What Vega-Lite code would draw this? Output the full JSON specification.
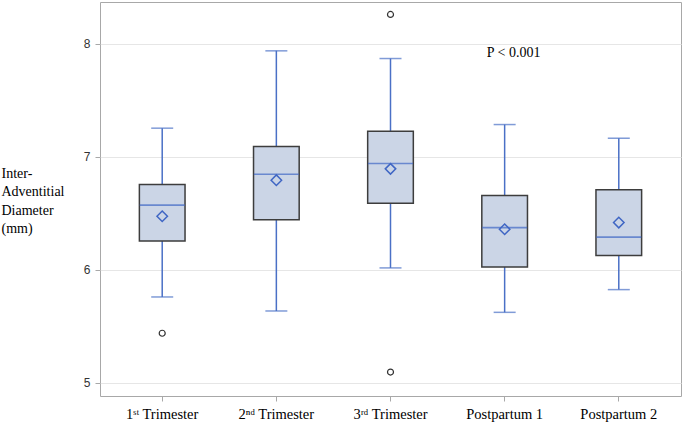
{
  "$schema": "https://vega.github.io/schema/vega-lite/v6.json",
  "width": 581,
  "height": 394,
  "autosize": {"type": "none"},
  "padding": {"left": 100, "top": 2, "right": 4, "bottom": 31},
  "background": "white",
  "config": {
    "view": {"stroke": "#a8a8a8", "strokeWidth": 1},
    "axisX": {"domain": false, "tickColor": "#a8a8a8", "tickSize": 5, "labelFont": "Liberation Serif", "labelFontSize": 14.5, "labelColor": "#000000", "labelPadding": 6, "labelAngle": 0, "title": null},
    "axisY": {"domain": false, "tickColor": "#a8a8a8", "tickSize": 5, "labelFont": "Liberation Sans", "labelFontSize": 12, "labelColor": "#333333", "labelPadding": 5, "gridColor": "#e6e6e6", "gridWidth": 1}
  },
  "datasets": {
    "stats": [
      {"group": "1ˢᵗ Trimester", "lo": 5.761, "q1": 6.257, "med": 6.573, "mean": 6.475, "q3": 6.755, "hi": 7.254},
      {"group": "2ⁿᵈ Trimester", "lo": 5.637, "q1": 6.445, "med": 6.847, "mean": 6.794, "q3": 7.091, "hi": 7.938},
      {"group": "3ʳᵈ Trimester", "lo": 6.018, "q1": 6.590, "med": 6.941, "mean": 6.894, "q3": 7.227, "hi": 7.870},
      {"group": "Postpartum 1", "lo": 5.625, "q1": 6.027, "med": 6.374, "mean": 6.360, "q3": 6.658, "hi": 7.286},
      {"group": "Postpartum 2", "lo": 5.826, "q1": 6.127, "med": 6.290, "mean": 6.419, "q3": 6.710, "hi": 7.165}
    ],
    "outliers": [
      {"group": "1ˢᵗ Trimester", "value": 5.44},
      {"group": "3ʳᵈ Trimester", "value": 8.26},
      {"group": "3ʳᵈ Trimester", "value": 5.097}
    ],
    "notes": [
      {"group": "Postpartum 1", "value": 7.92, "label": "P < 0.001"}
    ]
  },
  "data": {"name": "stats"},
  "encoding": {
    "x": {
      "field": "group",
      "type": "nominal",
      "sort": null,
      "scale": {"domain": ["1ˢᵗ Trimester", "2ⁿᵈ Trimester", "3ʳᵈ Trimester", "Postpartum 1", "Postpartum 2"], "paddingInner": 0, "paddingOuter": 0.045}
    }
  },
  "layer": [
    {
      "mark": {"type": "rule", "color": "#4a70c6", "strokeWidth": 1.5},
      "encoding": {
        "y": {
          "field": "lo",
          "type": "quantitative",
          "scale": {"domain": [4.885, 8.37], "nice": false, "zero": false},
          "axis": {"values": [5, 6, 7, 8], "format": "d", "title": ["Inter-", "Adventitial", "Diameter", "(mm)"], "titleAngle": 0, "titleAlign": "left", "titleBaseline": "top", "titleX": -99, "titleY": 164, "titleFont": "Liberation Serif", "titleFontSize": 14, "titleFontWeight": "normal", "titleColor": "#000000", "titleLineHeight": 18.5}
        },
        "y2": {"field": "hi"}
      }
    },
    {
      "mark": {"type": "tick", "color": "#4a70c6", "size": 22, "thickness": 1.5},
      "encoding": {"y": {"field": "lo", "type": "quantitative"}}
    },
    {
      "mark": {"type": "tick", "color": "#4a70c6", "size": 22, "thickness": 1.5},
      "encoding": {"y": {"field": "hi", "type": "quantitative"}}
    },
    {
      "mark": {"type": "bar", "width": {"band": 0.4}, "fill": "#cbd5e6", "stroke": "#3d3d3d", "strokeWidth": 1.5},
      "encoding": {"y": {"field": "q1", "type": "quantitative"}, "y2": {"field": "q3"}}
    },
    {
      "mark": {"type": "tick", "color": "#3f66c4", "size": 45, "thickness": 1.6},
      "encoding": {"y": {"field": "med", "type": "quantitative"}}
    },
    {
      "mark": {"type": "point", "shape": "diamond", "filled": false, "size": 110, "stroke": "#3f66c4", "strokeWidth": 1.5, "opacity": 1},
      "encoding": {"y": {"field": "mean", "type": "quantitative"}}
    },
    {
      "data": {"name": "outliers"},
      "mark": {"type": "point", "shape": "circle", "filled": false, "size": 36, "stroke": "#333333", "strokeWidth": 1.2, "opacity": 1},
      "encoding": {"x": {"field": "group", "type": "nominal"}, "y": {"field": "value", "type": "quantitative"}}
    },
    {
      "data": {"name": "notes"},
      "mark": {"type": "text", "font": "Liberation Serif", "fontSize": 14, "color": "#000000", "dx": 9, "align": "center", "baseline": "middle"},
      "encoding": {"x": {"field": "group", "type": "nominal"}, "y": {"field": "value", "type": "quantitative"}, "text": {"field": "label"}}
    }
  ]
}
